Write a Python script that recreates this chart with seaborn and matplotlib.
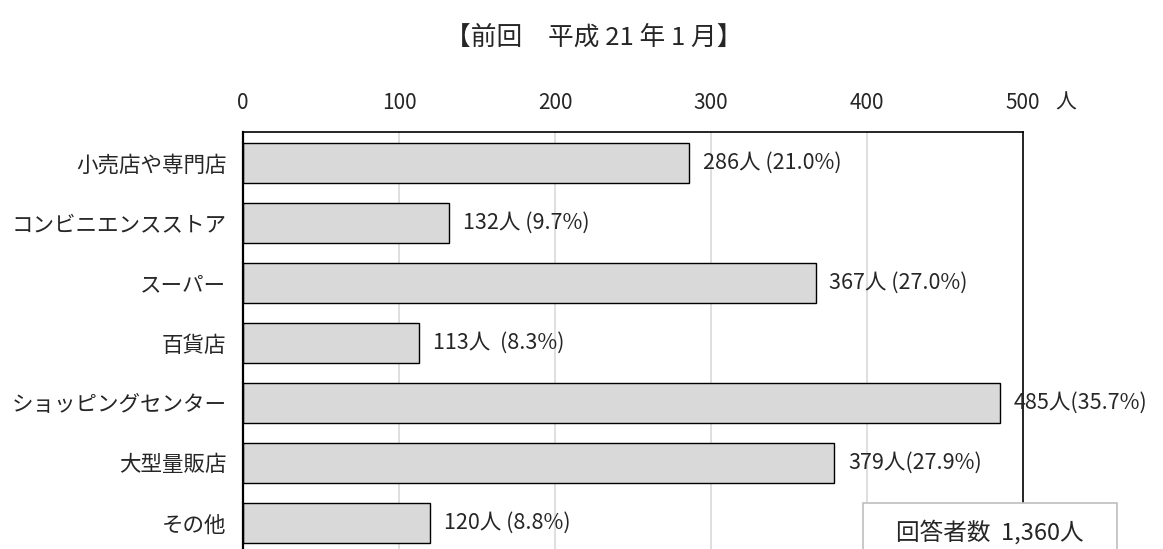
import matplotlib
matplotlib.use("Agg")
import matplotlib.pyplot as plt
import seaborn as sns
import pandas as pd
from matplotlib.patches import Rectangle

categories = ["小売店や専門店", "コンビニエンスストア", "スーパー", "百貨店",
              "ショッピングセンター", "大型量販店", "その他"]
counts = [286, 132, 367, 113, 485, 379, 120]
percents = [21.0, 9.7, 27.0, 8.3, 35.7, 27.9, 8.8]
label_seps = [" ", " ", " ", "  ", "", "", " "]
x_ticks = [0, 100, 200, 300, 400, 500]
title = "【前回　平成 21 年 1 月】"
total_text = "回答者数  1,360人"

sns.set_theme(style="white")
plt.rcParams["font.family"] = ["Noto Sans CJK JP", "DejaVu Sans"]

df = pd.DataFrame({"category": categories, "count": counts})

fig = plt.figure(figsize=(11.63, 5.49), dpi=100)
W, H = 1163, 549
ax = fig.add_axes([243 / W, (H - 554) / H, (1023 - 243) / W, (554 - 132) / H])

sns.barplot(data=df, y="category", x="count", orient="h", ax=ax,
            color="#d9d9d9", edgecolor="black", linewidth=1.0,
            width=0.67, saturation=1)

ax.set_xlim(0, 500)
ax.set_ylim(len(categories) - 0.5 + 0.02, -0.52)
ax.set_xticks(x_ticks)
ax.xaxis.tick_top()
ax.tick_params(axis="x", length=0, labelsize=15, pad=13)
ax.tick_params(axis="y", length=0, labelsize=15.5, pad=12)
ax.set_xlabel("")
ax.set_ylabel("")
for v in x_ticks[1:-1]:
    ax.axvline(v, color="#d9d9d9", lw=1.2, zorder=0)
for side in ["left", "top", "right"]:
    ax.spines[side].set_visible(True)
    ax.spines[side].set_color("black")
ax.spines["left"].set_linewidth(1.6)
ax.spines["top"].set_linewidth(1.2)
ax.spines["right"].set_linewidth(1.2)
ax.spines["bottom"].set_visible(False)

for i, (c, p, s) in enumerate(zip(counts, percents, label_seps)):
    ax.annotate(f"{c}人{s}({p:.1f}%)", xy=(c, i), xytext=(10, 0),
                textcoords="offset points", va="center", ha="left", fontsize=15.5)

fig.text(1066 / W, 1 - 103 / H, "人", ha="center", va="center", fontsize=15)
fig.text(594 / W, 1 - 38 / H, title, ha="center", va="center", fontsize=18.5)

box = Rectangle((863 / W, (H - 560) / H), (1117 - 863) / W, 57 / H,
                transform=fig.transFigure, facecolor="white",
                edgecolor="#bfbfbf", lw=1.2, zorder=5)
fig.patches.append(box)
fig.text(990 / W, 1 - 532 / H, total_text, ha="center", va="center",
         fontsize=17, zorder=6)

fig.savefig("out.png", dpi=100)
